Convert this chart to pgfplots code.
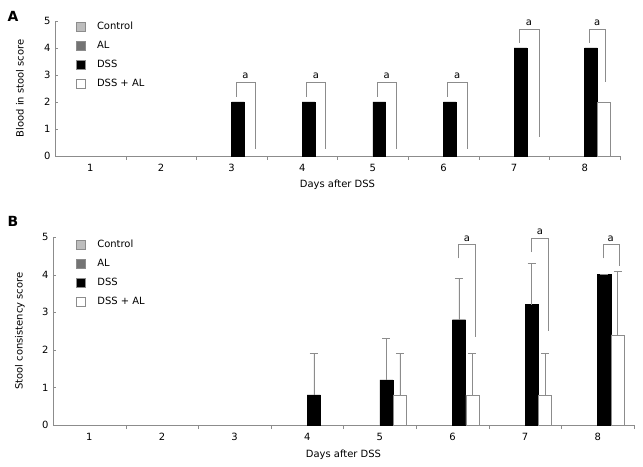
\documentclass[border=0pt]{standalone}
\usepackage{pgfplots}
\pgfplotsset{compat=1.18}
\usepackage{fontspec}
\setmainfont{DejaVu Sans}
\definecolor{axgray}{HTML}{8C8C8C}
\definecolor{ctrl}{HTML}{BDBDBD}
\definecolor{alc}{HTML}{737373}
\newcommand{\brk}[5]{\draw[axgray] (axis cs:#1,#2) -- (axis cs:#1,#4) -- node[above, inner sep=3bp, text=black]{a} (axis cs:#3,#4) -- (axis cs:#3,#5);}
\pgfplotsset{
 sqleg/.style={legend image code/.code={\draw[fill=#1, draw=axgray] (0bp,-4.5bp) rectangle (9bp,4.5bp);}},
 mystyle/.style={
  scale only axis,
  xmin=0.5, xmax=8.5, ymin=0, ymax=5,
  axis x line*=bottom, axis y line*=left,
  axis line style={-, axgray},
  xtick={1,...,8},
  major x tick style={draw=none},
  minor xtick={1.5,2.5,...,8.5},
  ytick={0,...,5},
  xtick pos=left, ytick pos=left,
  tick align=inside,
  tick style={axgray},
  major tick length=3bp, minor tick length=4bp,
  ticklabel style={font=\fontsize{10}{12}\selectfont},
  xticklabel style={yshift=-2bp},
  yticklabel style={xshift=-1bp},
  /pgf/number format/assume math mode=true,
  label style={font=\fontsize{10}{12}\selectfont},
  xlabel={Days after DSS},
  ybar, bar width=0.18,
  clip=false,
  legend cell align=left,
  legend style={draw=none, fill=none, anchor=north west, inner sep=0pt,
    row sep=6bp, column sep=10bp, font=\fontsize{10}{12}\selectfont,
    nodes={inner sep=1.5bp, text height=8bp, text depth=2bp}},
 }
}
\begin{document}
\begin{tikzpicture}
\useasboundingbox (0,0) rectangle (643bp,467bp);
\node[font=\fontsize{14}{16}\selectfont\bfseries] at (13bp,451bp) {A};
\node[font=\fontsize{14}{16}\selectfont\bfseries] at (13bp,246bp) {B};
% Panel A
\begin{axis}[mystyle, at={(55bp,311bp)}, anchor=south west,
  width=565bp, height=135bp,
  ylabel={Blood in stool score},
  ylabel style={at={(axis description cs:-0.062,0.5)}, anchor=center},
  xlabel style={at={(axis description cs:0.5,-0.215)}, anchor=center},
  legend style={at={(axis description cs:0.037,1.01)}}]
\addlegendimage{sqleg=ctrl}
\addlegendentry{Control}
\addlegendimage{sqleg=alc}
\addlegendentry{AL}
\addlegendimage{sqleg=black}
\addlegendentry{DSS}
\addlegendimage{sqleg=white}
\addlegendentry{DSS + AL}
\addplot[fill=black, draw=black, bar shift=0.09, forget plot] coordinates {(3,2) (4,2) (5,2) (6,2) (7,4) (8,4)};
\addplot[fill=white, draw=axgray, bar shift=0.27, forget plot] coordinates {(8,2)};
\brk{3.06}{2.2}{3.33}{2.74}{0.25}
\brk{4.06}{2.2}{4.33}{2.74}{0.25}
\brk{5.06}{2.2}{5.33}{2.74}{0.25}
\brk{6.06}{2.2}{6.33}{2.74}{0.25}
\brk{7.07}{4.2}{7.35}{4.7}{0.7}
\brk{8.065}{4.2}{8.29}{4.7}{2.73}
\end{axis}
% Panel B
\begin{axis}[mystyle, at={(53bp,42bp)}, anchor=south west,
  width=581bp, height=188bp,
  ylabel={Stool consistency score},
  ylabel style={at={(axis description cs:-0.057,0.5)}, anchor=center},
  xlabel style={at={(axis description cs:0.5,-0.16)}, anchor=center},
  legend style={at={(axis description cs:0.04,0.995)}},
  error bars/error bar style={axgray},
  error bars/error mark options={axgray, rotate=90, mark size=4bp}]
\addlegendimage{sqleg=ctrl}
\addlegendentry{Control}
\addlegendimage{sqleg=alc}
\addlegendentry{AL}
\addlegendimage{sqleg=black}
\addlegendentry{DSS}
\addlegendimage{sqleg=white}
\addlegendentry{DSS + AL}
\addplot[fill=black, draw=black, bar shift=0.09, forget plot,
  error bars/.cd, y dir=plus, y explicit] coordinates {
  (4,0.8) +- (0,1.1) (5,1.2) +- (0,1.1) (6,2.8) +- (0,1.1) (7,3.2) +- (0,1.1) (8,4.0) +- (0,0)};
\addplot[fill=white, draw=axgray, bar shift=0.275, forget plot,
  error bars/.cd, y dir=plus, y explicit] coordinates {
  (5,0.8) +- (0,1.1) (6,0.8) +- (0,1.1) (7,0.8) +- (0,1.1) (8,2.4) +- (0,1.68)};
\brk{6.08}{4.43}{6.32}{4.8}{2.33}
\brk{7.09}{4.6}{7.32}{4.98}{2.5}
\brk{8.07}{4.43}{8.29}{4.8}{4.24}
\end{axis}
\end{tikzpicture}
\end{document}
